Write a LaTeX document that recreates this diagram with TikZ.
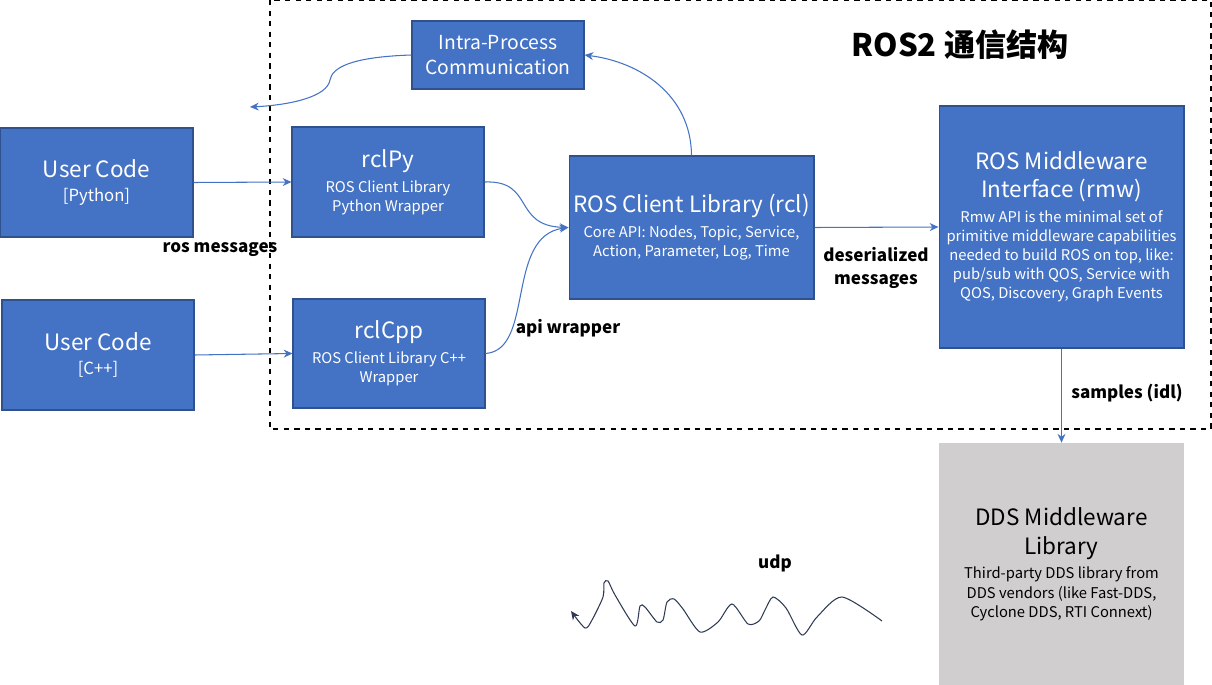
\documentclass[tikz,border=0pt]{standalone}
\usepackage{fontspec}
\setmainfont{Noto Sans CJK SC}
\usetikzlibrary{arrows.meta,positioning}
\definecolor{boxblue}{HTML}{4472C4}
\definecolor{boxedge}{HTML}{2F528F}
\definecolor{ddsgrey}{HTML}{D0CECE}
\definecolor{udpink}{HTML}{2E3A55}
\newcommand\bigtxt{\fontsize{12.8}{15}\selectfont}
\newcommand\midtxt{\fontsize{9.5}{12}\selectfont}
\newcommand\smalltxt{\fontsize{8.4}{10.9}\selectfont}
\begin{document}
\begin{tikzpicture}[x=0.02cm,y=-0.02cm,
  box/.style={draw=boxedge,fill=boxblue,text=white,align=center,inner sep=0pt,line width=0.6pt,font=\smalltxt},
  ddsbox/.style={fill=ddsgrey,align=center,inner sep=0pt,font=\smalltxt},
  lbl/.style={font=\bfseries\fontsize{9.7}{13.6}\selectfont,align=center},
  conn/.style={draw=boxblue,line width=0.6pt,-{Stealth[length=5pt,width=4.5pt]}}]
  \useasboundingbox (0,0) rectangle (1212,685);
  % process frame
  \draw[dashed,line width=0.6pt] (270,0) rectangle (1211,429);
  \node[font=\bfseries\fontsize{17.7}{20}\selectfont] (title) at (960,45) {ROS2 通信结构};
  % user code
  \node[box,font=\midtxt,minimum width=3.86cm,minimum height=2.18cm] (pyuser) at (96.5,182.5)
    {\bigtxt User Code\\[2pt]\midtxt [Python]};
  \node[box,font=\midtxt,minimum width=3.84cm,minimum height=2.2cm] (cppuser) at (98,355)
    {\bigtxt User Code\\[2pt]\midtxt [C++]};
  % client libraries
  \node[box,minimum width=3.84cm,minimum height=2.2cm] (rclpy) at (388,182)
    {\bigtxt rclPy\\[3.3pt]ROS Client Library\\Python Wrapper};
  \node[box,minimum width=3.84cm,minimum height=2.18cm] (rclcpp) at (389,353.5)
    {\bigtxt rclCpp\\[3.3pt]ROS Client Library C++\\Wrapper};
  \node[box,minimum width=3.44cm,minimum height=1.36cm,font=\fontsize{11}{14.7}\selectfont] (intra) at (498,55)
    {Intra-Process\\Communication};
  \node[box,minimum width=4.9cm,minimum height=2.86cm] (rcl) at (691.5,227.5)
    {\bigtxt ROS Client Library (rcl)\\[3.3pt]Core API: Nodes, Topic, Service,\\Action, Parameter, Log, Time};
  % middleware
  \node[box,minimum width=4.9cm,minimum height=4.84cm] (rmw) at (1061.5,227)
    {\bigtxt ROS Middleware\\[5pt]\bigtxt Interface (rmw)\\[3.3pt]Rmw API is the minimal set of\\primitive middleware capabilities\\needed to build ROS on top, like:\\pub/sub with QOS, Service with\\QOS, Discovery, Graph Events};
  \node[ddsbox,minimum width=4.9cm,minimum height=4.84cm] (dds) at (1061.5,564)
    {\bigtxt DDS Middleware\\[5.5pt]\bigtxt Library\\[3.3pt]Third-party DDS library from\\DDS vendors (like Fast-DDS,\\Cyclone DDS, RTI Connext)};
  % connectors
  \draw[conn] (pyuser.east) -- (rclpy.west);
  \draw[conn] (cppuser.east) -- (rclcpp.west);
  \draw[conn] (rclpy.east) .. controls (535,180) and (512,226) .. (rcl.west);
  \draw[conn] (rclcpp.east) .. controls (535,350) and (505,236) .. (rcl.west);
  \draw[conn] (rcl.north) .. controls (691,95) and (640,62) .. (intra.east);
  \coordinate (intraout) at (250,107);
  \draw[conn] (intra.west) .. controls (350,57) and (332,68) .. (330,80)
    .. controls (327,97) and (290,105) .. (intraout);
  \draw[conn] (rcl.east) -- (rmw.west);
  \draw[conn] (rmw.south) -- (dds.north);
  % labels
  \node[lbl] (rosmsg) at (220,250) {ros messages};
  \node[lbl] (apiwrap) at (568,328) {api wrapper};
  \node[lbl] (deser) at (876,268) {deserialized\\messages};
  \node[lbl] (samples) at (1127,393) {samples (idl)};
  \node[lbl] (udp) at (775,563) {udp};
  % udp scribble
  \draw[udpink,line width=0.6pt,-{Stealth[length=5pt,width=4.5pt]}]
    plot[smooth,tension=0.45] coordinates {(882,621) (842,597) (817,617) (802,635)
    (786,608) (773,597) (765,610) (759,621) (748,624) (732,604) (718,622) (700,632)
    (683,609) (674,599) (667,602) (663,620) (657,622) (645,607) (640,606) (635,626)
    (615,595) (608,581) (604,583) (603,597) (592,620) (585,628) (571,611)};
\end{tikzpicture}
\end{document}
